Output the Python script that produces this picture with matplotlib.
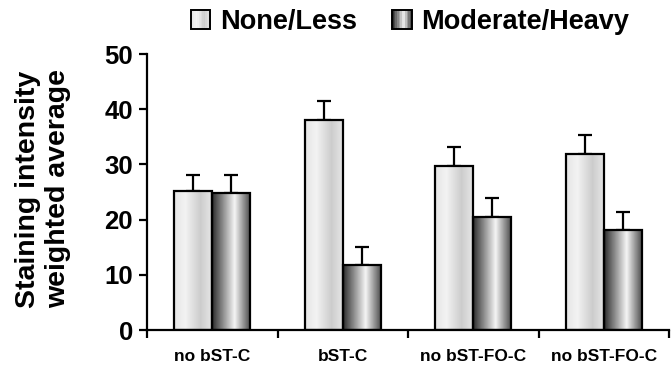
import numpy as np
import matplotlib
matplotlib.use("Agg")
import matplotlib.pyplot as plt
from matplotlib.patches import Rectangle
from matplotlib.legend_handler import HandlerBase

categories = ["no bST-C", "bST-C", "no bST-FO-C", "no bST-FO-C"]
series_names = ["None/Less", "Moderate/Heavy"]
none_less = [25.2, 38.0, 29.7, 31.9]
none_less_err = [2.8, 3.4, 3.5, 3.4]
mod_heavy = [24.9, 11.8, 20.4, 18.1]
mod_heavy_err = [3.1, 3.2, 3.5, 3.2]
yticks = [0, 10, 20, 30, 40, 50]

plt.rcParams['font.family'] = ['Liberation Sans', 'DejaVu Sans']
plt.rcParams['font.weight'] = 'bold'

# horizontal gradients (left -> right)
light_stops = ([0.0, 0.3, 0.7, 1.0], [0.90, 0.95, 0.80, 0.90])
dark_stops = ([0.0, 0.6, 1.0], [0.18, 0.96, 0.32])

def grad_values(stops, n=64):
    xs = np.linspace(0, 1, n)
    return np.interp(xs, stops[0], stops[1])

fig = plt.figure(figsize=(6.71, 3.66), dpi=100)
ax = fig.add_axes([147 / 671, 36 / 366, 522 / 671, 276 / 366])

x = np.arange(len(categories))
w = 0.29
for vals, errs, off, stops in [(none_less, none_less_err, -w / 2, light_stops),
                               (mod_heavy, mod_heavy_err, w / 2, dark_stops)]:
    bars = ax.bar(x + off, vals, w, facecolor='none', edgecolor='black',
                  linewidth=1.6, zorder=3)
    g = grad_values(stops)
    img = np.tile(g, (2, 1))
    for b in bars:
        x0, y0 = b.get_x(), b.get_y()
        ax.imshow(img, cmap='gray', vmin=0, vmax=1, aspect='auto',
                  extent=[x0, x0 + b.get_width(), y0, y0 + b.get_height()],
                  interpolation='bilinear', zorder=2)
    ax.errorbar(x + off, vals, yerr=[[0] * len(vals), errs], fmt='none',
                ecolor='black', elinewidth=1.6, capsize=5, capthick=1.6, zorder=1)

ax.set_xlim(-0.5, len(categories) - 0.5)
ax.set_ylim(0, 50)
ax.set_yticks(yticks)
ax.set_yticklabels([str(t) for t in yticks], fontsize=18.5, fontweight='bold')
ax.set_xticks(np.arange(len(categories) + 1) - 0.5)
ax.set_xticklabels([])
ax.set_xticks(x, minor=True)
ax.set_xticklabels(categories, minor=True, fontsize=12.5, fontweight='bold')
ax.tick_params(axis='x', which='minor', length=0, pad=14)
ax.tick_params(axis='x', which='major', length=6, width=1.6, direction='out')
ax.tick_params(axis='y', length=6, width=1.6, direction='out', pad=4)
for s in ['top', 'right']:
    ax.spines[s].set_visible(False)
for s in ['left', 'bottom']:
    ax.spines[s].set_linewidth(1.6)

fig.text(43 / 671, 1 - 189 / 366, "Staining intensity\nweighted average",
         rotation=90, ha='center', va='center', fontsize=20.5,
         fontweight='bold', linespacing=1.2)


class GradHandler(HandlerBase):
    def __init__(self, stops):
        super().__init__()
        self.stops = stops

    def create_artists(self, legend, orig_handle, xdescent, ydescent, width,
                       height, fontsize, trans):
        size = min(width, height) * 1.0
        x0 = -xdescent + (width - size) / 2
        y0 = -ydescent + (height - size) / 2
        n = 12
        g = grad_values(self.stops, n)
        arts = []
        for i in range(n):
            arts.append(Rectangle((x0 + i * size / n, y0), size / n, size,
                                  facecolor=str(g[i]), edgecolor='none',
                                  transform=trans))
        arts.append(Rectangle((x0, y0), size, size, facecolor='none',
                              edgecolor='black', linewidth=1.4, transform=trans))
        return arts


h1 = Rectangle((0, 0), 1, 1)
h2 = Rectangle((0, 1), 1, 1)
fig.legend([h1, h2], series_names, loc='center', bbox_to_anchor=(410 / 671, 1 - 22 / 366),
           ncol=2, frameon=False, prop={'size': 19.5, 'weight': 'bold'},
           handler_map={h1: GradHandler(light_stops), h2: GradHandler(dark_stops)},
           handlelength=0.72, handleheight=0.72, handletextpad=0.35, columnspacing=1.3,
           borderaxespad=0)

fig.savefig("out.png", dpi=100)
